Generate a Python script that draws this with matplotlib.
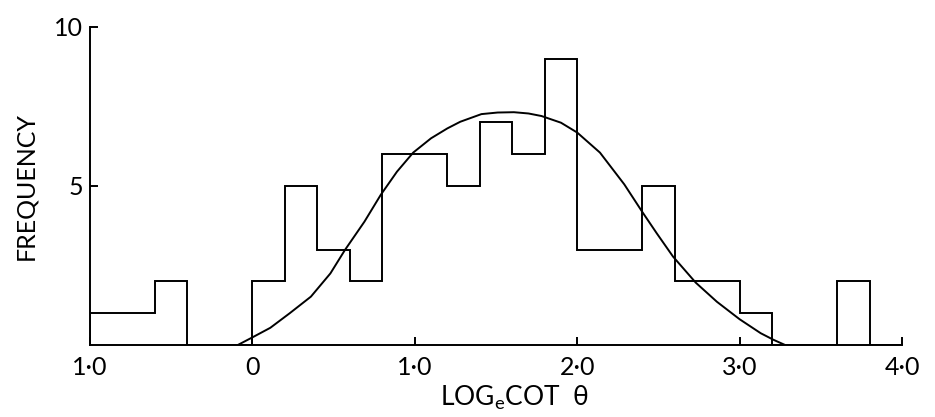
import numpy as np
import matplotlib.pyplot as plt

# histogram of log_e cot(theta), bins of 0.2
bin_edges = np.round(np.arange(-1.0, 4.01, 0.2), 2)
counts = [1, 1, 2, 0, 0, 2, 5, 3, 2, 6, 6, 5, 7, 6, 9, 3, 3, 5, 2, 2, 1, 0, 0, 2, 0]

# fitted curve, points
curve_x = [-0.09, 0.0, 0.11, 0.23, 0.36, 0.48, 0.57, 0.69, 0.79, 0.89, 0.99, 1.10,
           1.20, 1.28, 1.41, 1.51, 1.61, 1.70, 1.78, 1.90, 2.0, 2.14, 2.29, 2.40,
           2.49, 2.59, 2.73, 2.86, 3.0, 3.13, 3.21, 3.28]
curve_y = [0.0, 0.24, 0.54, 1.0, 1.52, 2.25, 2.99, 3.88, 4.72, 5.45, 6.05, 6.5,
           6.81, 7.02, 7.26, 7.31, 7.32, 7.28, 7.2, 6.99, 6.68, 6.05, 5.05, 4.19,
           3.51, 2.78, 1.96, 1.36, 0.81, 0.37, 0.16, 0.0]

xtick_pos = [-1.0, 0.0, 1.0, 2.0, 3.0, 4.0]
xtick_lab = ['1·0', '0', '1·0', '2·0', '3·0', '4·0']
ytick_pos = [5, 10]
ytick_lab = ['5', '10']

plt.rcParams['font.family'] = ['Lato', 'DejaVu Sans']
plt.rcParams['mathtext.default'] = 'regular'
plt.rcParams['text.color'] = 'black'

fig = plt.figure(figsize=(9.35, 4.17), dpi=100)
ax = fig.add_axes([0.0963, 0.1727, 0.8684, 0.7626])

ax.stairs(counts, bin_edges, baseline=0, color='black', linewidth=1.4)
ax.plot(curve_x, curve_y, color='black', linewidth=1.4)

ax.set_xlim(-1.0, 4.0)
ax.set_ylim(0, 10)
ax.spines['top'].set_visible(False)
ax.spines['right'].set_visible(False)
ax.spines['left'].set_linewidth(1.4)
ax.spines['bottom'].set_linewidth(1.4)

ax.set_xticks(xtick_pos)
ax.set_xticklabels(xtick_lab, fontsize=18, color='black')
ax.set_yticks(ytick_pos)
ax.set_yticklabels(ytick_lab, fontsize=18, color='black')
ax.tick_params(axis='both', direction='in', length=6, width=1.4)
ax.tick_params(axis='x', pad=8)
ax.tick_params(axis='y', pad=5)

ax.set_ylabel('FREQUENCY', fontsize=18, color='black', labelpad=12)
ax.text(1.61, -1.65, r'LOG$_e$COT  θ', fontsize=19, color='black',
        ha='center', va='center')

fig.savefig('out.png', dpi=100)
